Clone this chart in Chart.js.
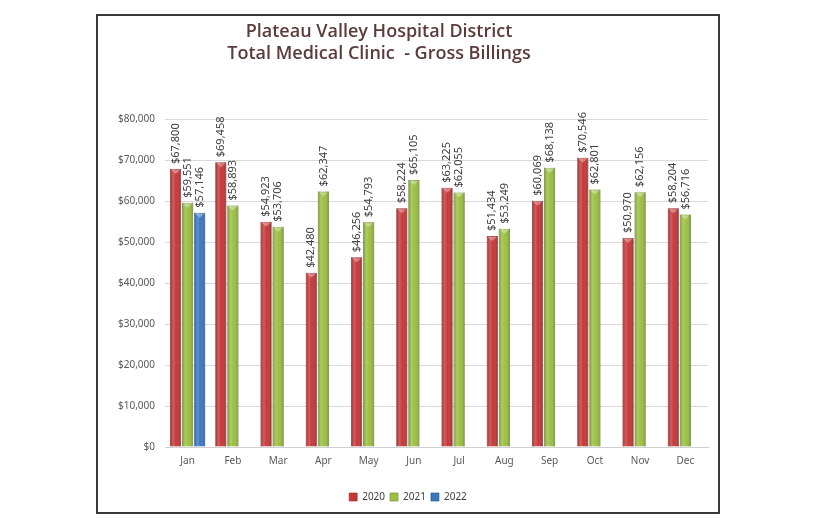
<!DOCTYPE html>
<html>
<head>
<meta charset="utf-8">
<script src="https://cdn.jsdelivr.net/npm/chart.js@4.4.1/dist/chart.umd.min.js"></script>
<style>
  body { margin: 0; background: #fff; }
  #frame {
    position: absolute; left: 96px; top: 14px;
    width: 620px; height: 496px;
    border: 2px solid #3a3a3a; background: #fff;
  }
</style>
</head>
<body>
<div id="frame"><canvas id="chart" width="620" height="496"></canvas></div>
<script>
const months = ['Jan', 'Feb', 'Mar', 'Apr', 'May', 'Jun', 'Jul', 'Aug', 'Sep', 'Oct', 'Nov', 'Dec'];
const billings2020 = [67800, 69458, 54923, 42480, 46256, 58224, 63225, 51434, 60069, 70546, 50970, 58204];
const billings2021 = [59551, 58893, 53706, 62347, 54793, 65105, 62055, 53249, 68138, 62801, 62156, 56716];
const billings2022 = [57146, null, null, null, null, null, null, null, null, null, null, null];
const yTicks = [0, 10000, 20000, 30000, 40000, 50000, 60000, 70000, 80000];
const titleLines = ['Plateau Valley Hospital District', 'Total Medical Clinic  - Gross Billings'];

const money = v => '$' + v.toLocaleString('en-US');

// title is drawn by hand, it sits a bit left of centre in the original
const chartTitle = {
  id: 'chartTitle',
  afterDraw(chart) {
    const c = chart.ctx;
    c.save();
    c.font = '600 18px "Open Sans", sans-serif';
    c.fillStyle = '#5b3b3b';
    c.textAlign = 'center';
    c.textBaseline = 'middle';
    titleLines.forEach((t, i) => c.fillText(t, 281, 16 + i * 22));
    c.restore();
  }
};

// shading so the bars look like the rounded excel bars
const barShade = {
  id: 'barShade',
  afterDatasetsDraw(chart) {
    const c = chart.ctx;
    chart.data.datasets.forEach((ds, i) => {
      chart.getDatasetMeta(i).data.forEach((bar, j) => {
        if (ds.data[j] == null) return;
        const w = bar.width, x0 = bar.x - w / 2, top = bar.y, h = bar.base - bar.y;
        const g = c.createLinearGradient(x0, 0, x0 + w, 0);
        g.addColorStop(0, 'rgba(0,0,0,0.22)');
        g.addColorStop(0.3, 'rgba(255,255,255,0.18)');
        g.addColorStop(0.55, 'rgba(255,255,255,0)');
        g.addColorStop(1, 'rgba(0,0,0,0.25)');
        c.save();
        c.fillStyle = g;
        c.fillRect(x0, top, w, h);
        // little cap on top
        c.fillStyle = 'rgba(255,255,255,0.35)';
        c.beginPath();
        c.moveTo(x0 + 1, top + 1);
        c.lineTo(x0 + w - 1, top + 1);
        c.lineTo(bar.x, top + 5);
        c.closePath();
        c.fill();
        c.restore();
      });
    });
  }
};

// rotated value labels above each bar
const valueLabels = {
  id: 'valueLabels',
  afterDatasetsDraw(chart) {
    const c = chart.ctx;
    c.save();
    c.font = '11px "Noto Sans", sans-serif';
    c.fillStyle = '#404040';
    c.textAlign = 'left';
    c.textBaseline = 'middle';
    chart.data.datasets.forEach((ds, i) => {
      chart.getDatasetMeta(i).data.forEach((bar, j) => {
        const v = ds.data[j];
        if (v == null) return;
        c.save();
        c.translate(bar.x, bar.y - 5);
        c.rotate(-Math.PI / 2);
        c.fillText(money(v), 0, 0);
        c.restore();
      });
    });
    c.restore();
  }
};

new Chart(document.getElementById('chart'), {
  type: 'bar',
  data: {
    labels: months,
    datasets: [
      { label: '2020', data: billings2020, backgroundColor: '#c8383a', borderColor: '#8e2426', borderWidth: 0.6 },
      { label: '2021', data: billings2021, backgroundColor: '#9cc042', borderColor: '#6a8a26', borderWidth: 0.6 },
      { label: '2022', data: billings2022, backgroundColor: '#3b78c2', borderColor: '#244f8a', borderWidth: 0.6 }
    ]
  },
  options: {
    responsive: false,
    animation: false,
    categoryPercentage: 0.8,
    barPercentage: 0.92,
    layout: { padding: { left: 10, right: 10, top: 103, bottom: 0 } },
    plugins: {
      title: { display: false },
      legend: {
        position: 'bottom',
        labels: {
          boxWidth: 8, boxHeight: 8, padding: 5,
          color: '#404040',
          font: { family: '"Noto Sans", sans-serif', size: 10 }
        }
      },
      tooltip: { enabled: false }
    },
    scales: {
      x: {
        grid: { display: false, drawTicks: false },
        border: { color: '#d0d0d0' },
        ticks: { color: '#595959', font: { family: '"Noto Sans", sans-serif', size: 10 }, padding: 8 },
        afterFit: s => { s.height = 40; }
      },
      y: {
        min: 0, max: 80000,
        afterBuildTicks: s => { s.ticks = yTicks.map(v => ({ value: v })); },
        grid: { color: '#d9d9d9', drawTicks: false },
        border: { display: false },
        ticks: {
          color: '#595959', padding: 10,
          font: { family: '"Noto Sans", sans-serif', size: 10 },
          callback: v => money(v)
        }
      }
    }
  },
  plugins: [barShade, valueLabels, chartTitle]
});
</script>
</body>
</html>
